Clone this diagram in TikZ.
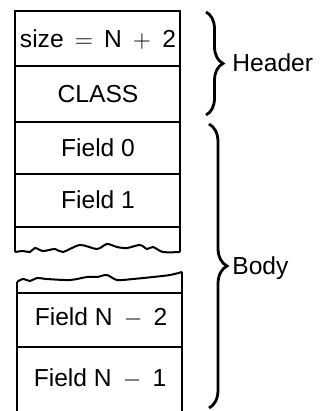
\documentclass[tikz,border=0pt]{standalone}
\usepackage{fontspec}
\setmainfont{Liberation Sans}
\usetikzlibrary{decorations.pathreplacing}
\tikzset{
  cell/.style={font=\fontsize{12.3}{14}\selectfont, inner sep=0pt},
  part/.style={font=\fontsize{12.3}{14}\selectfont, inner sep=0pt, anchor=west},
  frame/.style={line width=1pt},
  curly/.style={decorate, decoration={brace, amplitude=#1}, line width=1.4pt},
}
\newcommand\gap{\hspace{0.45em}}
\begin{document}
\begin{tikzpicture}[x=0.5pt,y=-0.5pt]
    \useasboundingbox (0,0) rectangle (323,411);
    % Bloque superior
    \draw[frame] (15,252) -- (15,11) -- (180,11) -- (180,252);
    \foreach \y in {66,122,174,227}
        \draw[frame] (15,\y) -- (180,\y);
    \draw[frame] plot[smooth] coordinates {(15,252) (23,251) (30,252) (35,248)
        (43,251) (55,249) (63,252) (80,245) (97,249) (107,244) (117,247)
        (127,248) (140,245) (147,249) (153,247) (163,252) (180,252)};
    % Bloque inferior
    \draw[frame] plot[smooth] coordinates {(17,282) (23,279) (30,281) (37,278)
        (47,279) (70,280) (87,277) (97,277) (107,275) (117,280) (133,279)
        (153,277) (170,275) (182,272)};
    \draw[frame] (17,282) -- (17,411);
    \draw[frame] (182,272) -- (182,411);
    \foreach \y in {293,347}
        \draw[frame] (17,\y) -- (182,\y);
    % Campos
    \node[cell] (size) at (98,40) {size\gap\(=\)\gap N\gap\(+\)\gap 2};
    \node[cell] (class) at (98,94) {CLASS};
    \node[cell] (field0) at (98,148) {Field 0};
    \node[cell] (field1) at (98,200) {Field 1};
    \node[cell] (fieldn2) at (101,318) {Field N\gap\(-\)\gap 2};
    \node[cell] (fieldn1) at (100,379) {Field N\gap\(-\)\gap 1};
    % Llaves
    \coordinate (htop) at (206,12);
    \coordinate (hbot) at (206,115);
    \coordinate (btop) at (209,124);
    \coordinate (bbot) at (209,408);
    \draw[curly=8.5pt] (htop) -- (hbot);
    \draw[curly=9pt] (btop) -- (bbot);
    \node[part] (header) at (232,63) {Header};
    \node[part] (body) at (232,268) {Body};
\end{tikzpicture}
\end{document}
